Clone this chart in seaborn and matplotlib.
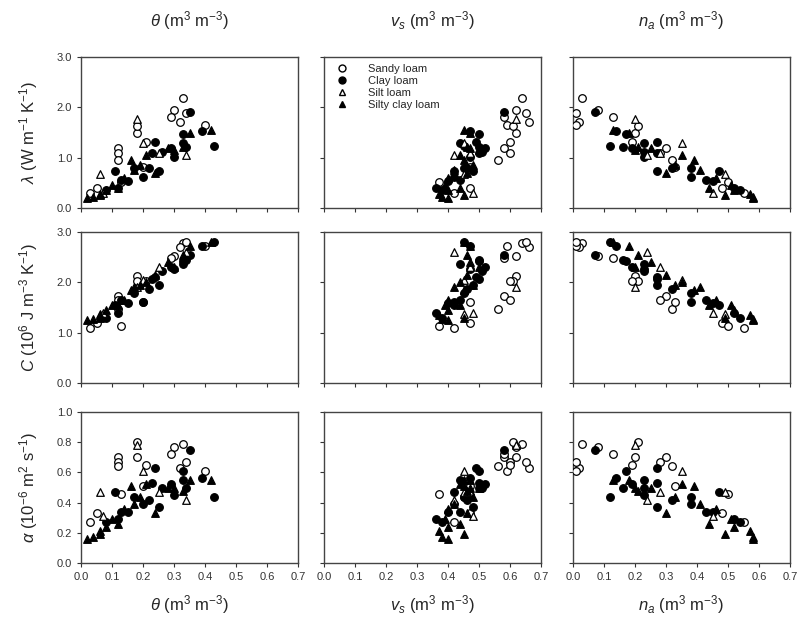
import numpy as np
import pandas as pd
import matplotlib
matplotlib.use("Agg")
import matplotlib.pyplot as plt
import seaborn as sns

sns.set_style("ticks")
plt.rcParams['font.family'] = ['Liberation Sans', 'DejaVu Sans']
plt.rcParams['mathtext.fontset'] = 'custom'
plt.rcParams['mathtext.rm'] = 'Liberation Sans'
plt.rcParams['mathtext.it'] = 'Liberation Sans:italic'

# ---- data ----
soils = ["Sandy loam", "Clay loam", "Silt loam", "Silty clay loam"]

sl_theta = [0.33,0.30,0.32,0.40,0.18,0.18,0.12,0.12,0.12,0.20,0.21,0.34,0.29,0.03,0.05,0.13]
sl_vs    = [0.64,0.62,0.66,0.59,0.62,0.61,0.58,0.60,0.56,0.47,0.60,0.65,0.58,0.42,0.47,0.37]
sl_na    = [0.03,0.08,0.02,0.01,0.20,0.21,0.30,0.28,0.32,0.33,0.19,0.01,0.13,0.55,0.48,0.50]
sl_lam   = [2.18,1.94,1.70,1.65,1.50,1.62,1.20,1.10,0.95,0.82,1.32,1.88,1.80,0.30,0.40,0.52]
sl_C     = [2.78,2.52,2.70,2.72,2.13,2.02,1.72,1.65,1.48,1.60,2.03,2.80,2.49,1.10,1.20,1.14]
sl_alpha = [0.79,0.77,0.63,0.61,0.70,0.80,0.70,0.67,0.64,0.51,0.65,0.67,0.72,0.27,0.33,0.46]

cl_theta = [0.35,0.33,0.39,0.43,0.29,0.34,0.24,0.23,0.25,0.22,0.17,0.11,0.13,0.12,0.15,0.30,0.20,0.33,0.08,0.26]
cl_vs    = [0.58,0.50,0.47,0.45,0.52,0.50,0.49,0.50,0.48,0.46,0.45,0.42,0.44,0.36,0.40,0.47,0.42,0.44,0.38,0.51]
cl_na    = [0.07,0.17,0.14,0.12,0.19,0.16,0.27,0.27,0.27,0.32,0.38,0.47,0.43,0.52,0.45,0.23,0.38,0.23,0.54,0.23]
cl_lam   = [1.91,1.48,1.52,1.23,1.19,1.22,1.32,1.09,0.73,0.79,0.79,0.73,0.56,0.40,0.53,1.02,0.62,1.29,0.35,1.12]
cl_C     = [2.55,2.42,2.72,2.80,2.30,2.45,2.10,2.06,1.95,1.86,1.78,1.55,1.64,1.40,1.58,2.26,1.60,2.36,1.30,2.22]
cl_alpha = [0.75,0.61,0.56,0.44,0.52,0.50,0.63,0.53,0.37,0.42,0.44,0.47,0.34,0.29,0.34,0.45,0.39,0.55,0.27,0.50]

sil_theta = [0.18,0.06,0.07,0.20,0.34,0.25]
sil_vs    = [0.62,0.45,0.48,0.45,0.42,0.47]
sil_na    = [0.20,0.49,0.45,0.35,0.24,0.28]
sil_lam   = [1.76,0.68,0.30,1.30,1.05,1.10]
sil_C     = [1.90,1.37,1.40,2.05,2.60,2.30]
sil_alpha = [0.78,0.47,0.31,0.61,0.42,0.47]

scl_theta = [0.02,0.04,0.06,0.08,0.10,0.14,0.17,0.16,0.21,0.24,0.28,0.33,0.35,0.06,0.12,0.19,0.30,0.42]
scl_vs    = [0.40,0.38,0.37,0.40,0.39,0.40,0.42,0.45,0.44,0.46,0.47,0.46,0.47,0.45,0.44,0.48,0.50,0.45]
scl_na    = [0.58,0.58,0.57,0.52,0.51,0.46,0.41,0.39,0.35,0.30,0.25,0.21,0.18,0.49,0.44,0.33,0.20,0.13]
scl_lam   = [0.20,0.22,0.28,0.35,0.45,0.60,0.75,0.95,1.05,0.70,1.20,1.22,1.50,0.25,0.40,0.85,1.15,1.55]
scl_C     = [1.25,1.27,1.35,1.45,1.55,1.65,1.90,1.85,2.00,2.15,2.40,2.55,2.72,1.30,1.55,1.95,2.30,2.80]
scl_alpha = [0.16,0.17,0.21,0.24,0.29,0.36,0.39,0.51,0.52,0.33,0.50,0.48,0.55,0.19,0.26,0.44,0.50,0.55]

x_ticks = [0.0, 0.1, 0.2, 0.3, 0.4, 0.5, 0.6, 0.7]
lam_ticks = [0.0, 1.0, 2.0, 3.0]
C_ticks = [0.0, 1.0, 2.0, 3.0]
alpha_ticks = [0.0, 0.2, 0.4, 0.6, 0.8, 1.0]

frames = []
for name, th, vs, na, lam, C, al in [
    ("Sandy loam", sl_theta, sl_vs, sl_na, sl_lam, sl_C, sl_alpha),
    ("Clay loam", cl_theta, cl_vs, cl_na, cl_lam, cl_C, cl_alpha),
    ("Silt loam", sil_theta, sil_vs, sil_na, sil_lam, sil_C, sil_alpha),
    ("Silty clay loam", scl_theta, scl_vs, scl_na, scl_lam, scl_C, scl_alpha),
]:
    frames.append(pd.DataFrame({"soil": name, "theta": th, "vs": vs, "na": na,
                                "lam": lam, "C": C, "alpha": al}))
df = pd.concat(frames, ignore_index=True)

styles = {
    "Sandy loam": dict(marker="o", facecolor="white", edgecolor="black"),
    "Clay loam": dict(marker="o", facecolor="black", edgecolor="black"),
    "Silt loam": dict(marker="^", facecolor="white", edgecolor="black"),
    "Silty clay loam": dict(marker="^", facecolor="black", edgecolor="black"),
}

fig = plt.figure(figsize=(7.98, 6.26), dpi=100)
W, H = 798, 626
col_left = [81, 324, 573]
col_w = 217
row_top = [57, 232, 412]
row_h = 151

xcols = ["theta", "vs", "na"]
ycols = ["lam", "C", "alpha"]
xlab = [r"$\theta$ (m$^3$ m$^{-3}$)", r"$v_s$ (m$^3$ m$^{-3}$)", r"$n_a$ (m$^3$ m$^{-3}$)"]
ylab = [r"$\lambda$ (W m$^{-1}$ K$^{-1}$)", r"$C$ (10$^6$ J m$^{-3}$ K$^{-1}$)",
        r"$\alpha$ (10$^{-6}$ m$^2$ s$^{-1}$)"]
yticks = [lam_ticks, C_ticks, alpha_ticks]
ylims = [(0, 3.0), (0, 3.0), (0, 1.0)]

for r in range(3):
    for c in range(3):
        ax = fig.add_axes([col_left[c] / W, 1 - (row_top[r] + row_h) / H, col_w / W, row_h / H])
        for soil in soils:
            sub = df[df.soil == soil]
            st = styles[soil]
            sns.scatterplot(data=sub, x=xcols[c], y=ycols[r], ax=ax, marker=st["marker"],
                            color=st["facecolor"], edgecolor=st["edgecolor"], linewidth=0.9,
                            s=30, label=soil, legend=False, zorder=3)
        ax.set_xlim(0, 0.7)
        ax.set_ylim(*ylims[r])
        ax.set_xticks(x_ticks)
        ax.set_yticks(yticks[r])
        ax.tick_params(direction="out", length=3, width=0.8, labelsize=8, colors="#333333")
        for sp in ax.spines.values():
            sp.set_color("#444444")
            sp.set_linewidth(1.0)
        if r == 2:
            ax.set_xticklabels([f"{v:.1f}" for v in x_ticks])
            ax.set_xlabel(xlab[c], fontsize=12, labelpad=8)
        else:
            ax.set_xticklabels([])
            ax.set_xlabel("")
        if c == 0:
            ax.set_yticklabels([f"{v:.1f}" for v in yticks[r]])
            ax.set_ylabel(ylab[r], fontsize=12, labelpad=12)
        else:
            ax.set_yticklabels([])
            ax.set_ylabel("")
        if r == 0:
            ax.set_title(xlab[c], fontsize=12, pad=22)
        if r == 0 and c == 1:
            handles = []
            for soil in soils:
                st = styles[soil]
                handles.append(plt.Line2D([], [], linestyle="none", marker=st["marker"],
                                          markerfacecolor=st["facecolor"],
                                          markeredgecolor=st["edgecolor"], markersize=5,
                                          label=soil))
            ax.legend(handles=handles, loc="upper left", frameon=False, fontsize=8,
                      handletextpad=1.4, labelspacing=0.2, borderaxespad=0.2)

fig.savefig("out.png", dpi=100)
